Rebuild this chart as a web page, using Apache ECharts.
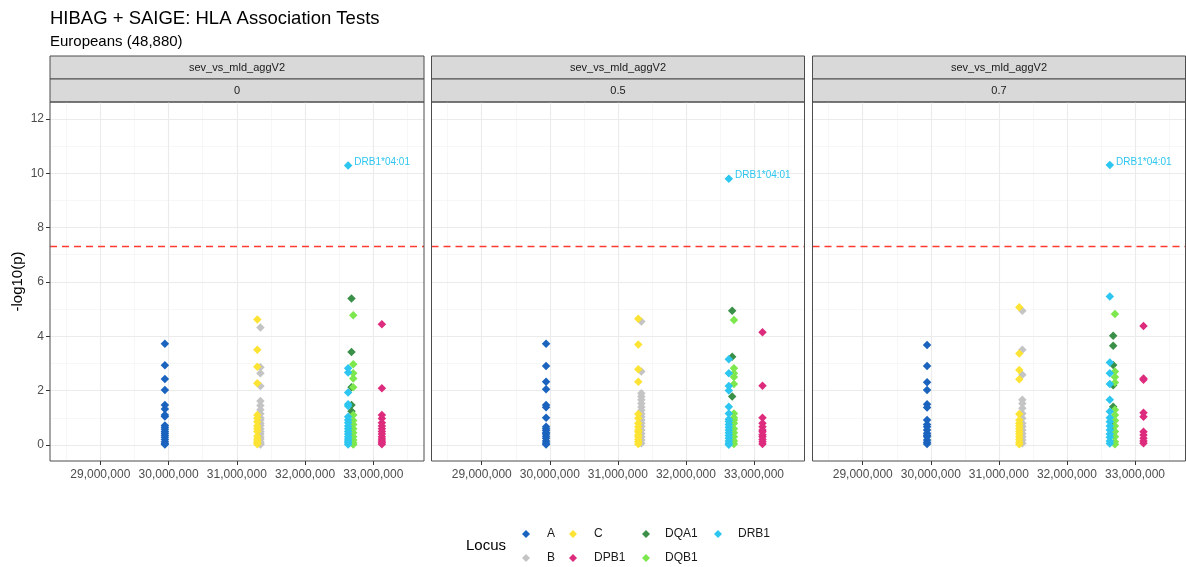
<!DOCTYPE html>
<html>
<head>
<meta charset="utf-8">
<script src="https://cdn.jsdelivr.net/npm/echarts@6/dist/echarts.min.js"></script>
<style>
html,body{margin:0;padding:0;background:#fff;}
#chart{width:1186px;height:567px;}
</style>
</head>
<body>
<div id="chart"></div>
<script>
// ---------- data ----------
const loci = ['A', 'B', 'C', 'DPB1', 'DQA1', 'DQB1', 'DRB1'];
const locusPos = [29945000, 31345000, 31300000, 33125000, 32680000, 32705000, 32630000];
const locusColors = ['#1A63BE', '#C4C4C4', '#FDE333', '#DD2C7D', '#3A9048', '#7CE84E', '#2DC6F0'];
const stripTopLabel = 'sev_vs_mld_aggV2';
const facetLabels = ['0', '0.5', '0.7'];
const xTicks = [29000000, 30000000, 31000000, 32000000, 33000000];
const xMinor = [28500000, 29500000, 30500000, 31500000, 32500000, 33500000];
const yTicks = [0, 2, 4, 6, 8, 10, 12];
const yMinor = [1, 3, 5, 7, 9, 11];
const gwasThreshold = 7.3;
const hitAllele = 'DRB1*04:01';

// -log10(p) per facet (0, 0.5, 0.7)
const vals_A = [
  [3.72, 2.93, 2.43, 2.02, 1.47, 1.32, 1.1, 1.05, 0.72, 0.65, 0.58, 0.5, 0.43, 0.36, 0.28, 0.2, 0.12, 0.05, 0.02],
  [3.72, 2.91, 2.33, 2.05, 1.47, 1.39, 1.0, 0.67, 0.6, 0.53, 0.45, 0.4, 0.32, 0.25, 0.15, 0.07, 0.02],
  [3.68, 2.91, 2.31, 2.02, 1.5, 1.38, 0.92, 0.75, 0.67, 0.55, 0.43, 0.36, 0.3, 0.18, 0.1, 0.04]
];
const vals_B = [
  [4.32, 2.86, 2.64, 2.17, 1.62, 1.45, 1.3, 1.15, 1.0, 0.92, 0.8, 0.72, 0.6, 0.5, 0.4, 0.3, 0.22, 0.12, 0.05, 0.02],
  [4.54, 2.7, 1.9, 1.78, 1.66, 1.53, 1.4, 1.28, 1.15, 1.04, 0.92, 0.8, 0.68, 0.55, 0.42, 0.3, 0.18, 0.06],
  [4.94, 3.5, 2.58, 1.66, 1.53, 1.35, 1.16, 0.98, 0.8, 0.68, 0.55, 0.42, 0.3, 0.18, 0.06]
];
const vals_C = [
  [4.62, 3.5, 2.88, 2.27, 1.1, 0.98, 0.85, 0.7, 0.6, 0.5, 0.32, 0.22, 0.15, 0.08, 0.03],
  [4.64, 3.7, 2.79, 2.33, 1.14, 0.98, 0.8, 0.67, 0.55, 0.49, 0.38, 0.3, 0.2, 0.12, 0.04],
  [5.07, 3.37, 2.76, 2.42, 1.14, 0.92, 0.8, 0.7, 0.6, 0.5, 0.4, 0.3, 0.2, 0.1, 0.03]
];
const vals_DPB1 = [
  [4.44, 2.09, 1.1, 0.97, 0.82, 0.7, 0.6, 0.5, 0.4, 0.3, 0.22, 0.15, 0.08, 0.03],
  [4.15, 2.18, 1.0, 0.8, 0.67, 0.55, 0.49, 0.38, 0.3, 0.2, 0.12, 0.04],
  [4.38, 2.45, 2.4, 1.19, 1.04, 0.49, 0.37, 0.25, 0.15, 0.06]
];
const vals_DQA1 = [
  [5.39, 3.42, 2.12, 1.47, 1.24, 0.6, 0.3, 0.1],
  [4.94, 3.25, 1.78, 0.9, 0.5, 0.2],
  [4.02, 3.65, 2.94, 2.2, 1.41, 0.7, 0.4]
];
const vals_DQB1 = [
  [4.77, 2.97, 2.64, 2.45, 2.12, 1.1, 0.9, 0.75, 0.6, 0.45, 0.3, 0.18, 0.08, 0.02],
  [4.6, 2.82, 2.64, 2.5, 2.24, 1.16, 1.0, 0.92, 0.8, 0.6, 0.45, 0.3, 0.15, 0.04],
  [4.82, 2.7, 2.5, 2.3, 1.3, 1.1, 0.9, 0.7, 0.5, 0.3, 0.12, 0.03]
];
const vals_DRB1 = [
  [10.28, 2.82, 2.67, 1.93, 1.5, 1.43, 1.04, 0.92, 0.82, 0.7, 0.6, 0.5, 0.4, 0.3, 0.22, 0.15, 0.08, 0.02],
  [9.8, 3.15, 2.64, 2.17, 2.0, 1.41, 1.16, 0.95, 0.86, 0.75, 0.65, 0.55, 0.45, 0.35, 0.25, 0.15, 0.06, 0.01],
  [10.3, 5.46, 3.03, 2.64, 2.24, 1.66, 1.23, 1.0, 0.85, 0.7, 0.55, 0.4, 0.28, 0.15, 0.05]
];
const locusVals = [vals_A, vals_B, vals_C, vals_DPB1, vals_DQA1, vals_DQB1, vals_DRB1];

// ---------- layout ----------
const FONT = '"Liberation Sans", Arial, Helvetica, sans-serif';
const panelLeft = [50, 431.5, 812.5];
const panelWidth = [374, 373, 373];
const panelTop = 102, panelHeight = 359;
const stripH = 23;
const xMin = 28262000, xMax = 33742000;
const yMin = -0.59, yMax = 12.62;

const grids = [], xAxes = [], yAxes = [], series = [], graphics = [];
const fmt = v => Math.round(v).toLocaleString('en-US');

for (let p = 0; p < 3; p++) {
  grids.push({
    left: panelLeft[p], top: panelTop, width: panelWidth[p], height: panelHeight,
    show: true, borderColor: '#4d4d4d', borderWidth: 1, backgroundColor: 'transparent', z: 6
  });
  xAxes.push({
    type: 'value', gridIndex: p, min: xMin, max: xMax, position: 'bottom',
    splitLine: { show: false }, axisLine: { show: false, onZero: false },
    axisTick: { show: true, customValues: xTicks, length: 4, lineStyle: { color: '#333', width: 1 } },
    axisLabel: { show: true, customValues: xTicks, formatter: fmt, color: '#4d4d4d', fontSize: 12, fontFamily: FONT, margin: 7.5 }
  });
  yAxes.push({
    type: 'value', gridIndex: p, min: yMin, max: yMax, position: 'left',
    name: p === 0 ? '-log10(p)' : '', nameLocation: 'middle', nameRotate: 90, nameGap: 25,
    nameTextStyle: { fontSize: 15, color: '#000', fontFamily: FONT },
    splitLine: { show: false }, axisLine: { show: false, onZero: false },
    axisTick: { show: p === 0, customValues: yTicks, length: 4, lineStyle: { color: '#333', width: 1 } },
    axisLabel: { show: p === 0, customValues: yTicks, color: '#4d4d4d', fontSize: 12, fontFamily: FONT, margin: 6 }
  });
  // gridlines + threshold via library scales
  const ml = [];
  xMinor.forEach(v => ml.push({ xAxis: v, lineStyle: { color: '#f2f2f2', width: 0.6, type: 'solid' } }));
  yMinor.forEach(v => ml.push({ yAxis: v, lineStyle: { color: '#f2f2f2', width: 0.6, type: 'solid' } }));
  xTicks.forEach(v => ml.push({ xAxis: v, lineStyle: { color: '#ebebeb', width: 1.1, type: 'solid' } }));
  yTicks.forEach(v => ml.push({ yAxis: v, lineStyle: { color: '#ebebeb', width: 1.1, type: 'solid' } }));
  series.push({
    type: 'scatter', name: 'grid' + p, xAxisIndex: p, yAxisIndex: p, data: [], z: 0, silent: true,
    markLine: { silent: true, z: 0, symbol: ['none', 'none'], label: { show: false }, animation: false, data: ml }
  });
  series.push({
    type: 'scatter', name: 'thr' + p, xAxisIndex: p, yAxisIndex: p, data: [], z: 1, silent: true,
    markLine: { silent: true, z: 1, symbol: ['none', 'none'], label: { show: false }, animation: false,
      data: [{ yAxis: gwasThreshold, lineStyle: { color: '#FF3B30', width: 1.3, type: [7, 5] } }] }
  });
  loci.forEach((name, l) => {
    const vals = locusVals[l][p];
    const top = Math.max(...vals);
    series.push({
      type: 'scatter', name: name, xAxisIndex: p, yAxisIndex: p, z: 3,
      symbol: 'diamond', symbolSize: 8.5,
      itemStyle: { color: locusColors[l], opacity: 1 },
      data: vals.map(v => {
        const d = { value: [locusPos[l], v] };
        if (name === 'DRB1' && v === top && v > gwasThreshold) {
          d.label = { show: true, formatter: hitAllele, position: 'right', distance: 2, offset: [0, -3],
            color: locusColors[l], fontSize: 10, fontFamily: FONT };
        }
        return d;
      }),
      animation: false
    });
  });
  // strips
  graphics.push({ type: 'rect', shape: { x: panelLeft[p], y: panelTop - 2 * stripH, width: panelWidth[p], height: stripH },
    style: { fill: '#d9d9d9', stroke: '#4d4d4d', lineWidth: 1 } });
  graphics.push({ type: 'rect', shape: { x: panelLeft[p], y: panelTop - stripH, width: panelWidth[p], height: stripH },
    style: { fill: '#d9d9d9', stroke: '#4d4d4d', lineWidth: 1 } });
  graphics.push({ type: 'text', x: panelLeft[p] + panelWidth[p] / 2, y: panelTop - 1.5 * stripH,
    style: { text: stripTopLabel, fill: '#1a1a1a', font: '11px ' + FONT, textAlign: 'center', textVerticalAlign: 'middle' } });
  graphics.push({ type: 'text', x: panelLeft[p] + panelWidth[p] / 2, y: panelTop - 0.5 * stripH,
    style: { text: facetLabels[p], fill: '#1a1a1a', font: '11px ' + FONT, textAlign: 'center', textVerticalAlign: 'middle' } });
}

graphics.push({ type: 'text', x: 466, y: 546,
  style: { text: 'Locus', fill: '#000', font: '15px ' + FONT, textAlign: 'left', textVerticalAlign: 'middle' } });

const legendCols = [['A', 'B'], ['C', 'DPB1'], ['DQA1', 'DQB1'], ['DRB1']];
const legendLeft = [522, 569, 642, 714];
const legendPad = [12, 12, 10, 11];
const legends = legendCols.map((cols, i) => ({
  data: cols, orient: 'vertical', left: legendLeft[i], top: 527, itemWidth: 8, itemHeight: 8, itemGap: 10,
  icon: 'diamond', padding: 0, selectedMode: false,
  textStyle: { fontSize: 12, color: '#1a1a1a', fontFamily: FONT, padding: [0, 0, 0, legendPad[i]], lineHeight: 14 }
}));

const chart = echarts.init(document.getElementById('chart'), null, { renderer: 'canvas' });
chart.setOption({
  animation: false,
  backgroundColor: '#fff',
  title: [{
    text: 'HIBAG + SAIGE: HLA Association Tests', left: 45, top: 4,
    textStyle: { fontSize: 18.5, fontWeight: 'normal', color: '#000', fontFamily: FONT },
    subtext: 'Europeans (48,880)', itemGap: 6,
    subtextStyle: { fontSize: 15, color: '#000', fontFamily: FONT }
  }],
  legend: legends,
  grid: grids,
  xAxis: xAxes,
  yAxis: yAxes,
  series: series,
  graphic: graphics
});
</script>
</body>
</html>
